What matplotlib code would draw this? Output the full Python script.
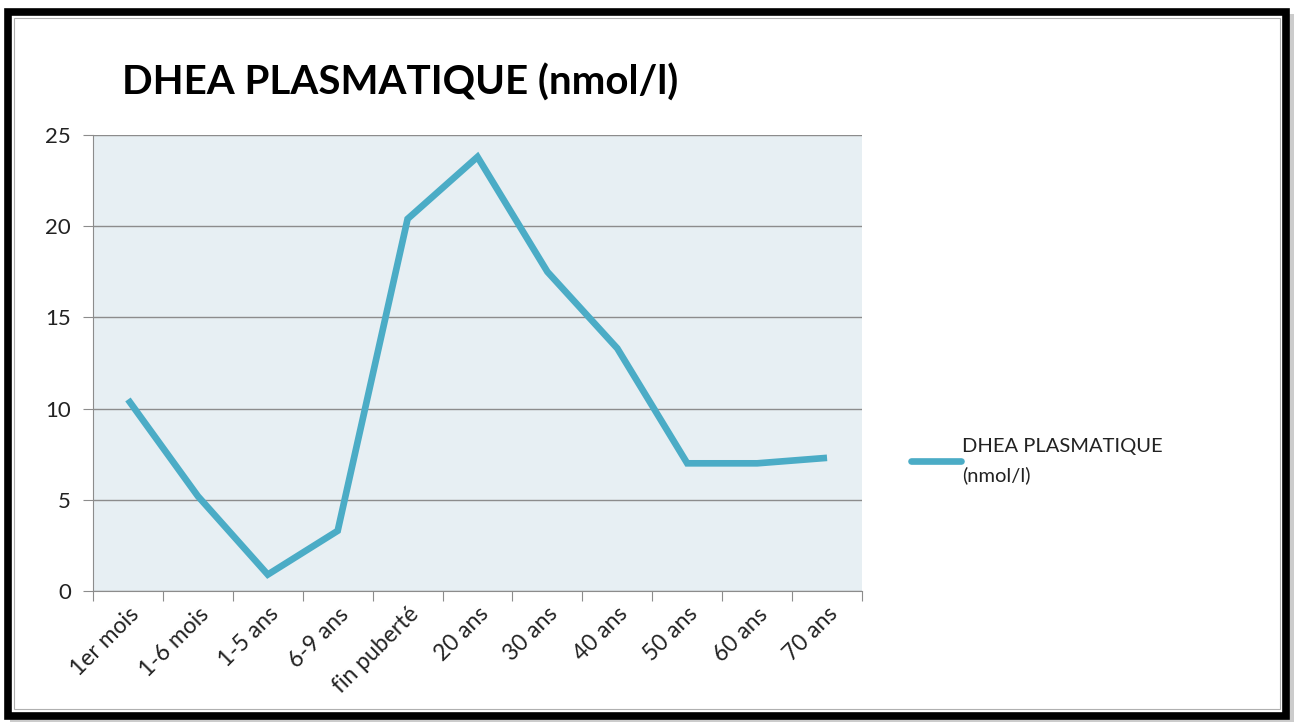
import matplotlib.pyplot as plt
from matplotlib.patches import Rectangle
from matplotlib.lines import Line2D

plt.rcParams['font.family'] = ['Lato', 'DejaVu Sans']

# Données
categories = ['1er mois', '1-6 mois', '1-5 ans', '6-9 ans', 'fin puberté',
              '20 ans', '30 ans', '40 ans', '50 ans', '60 ans', '70 ans']
dhea = [10.5, 5.2, 0.9, 3.3, 20.4, 23.8, 17.5, 13.3, 7.0, 7.0, 7.3]
serie = 'DHEA PLASMATIQUE (nmol/l)'

W, H = 1296, 722
fig = plt.figure(figsize=(W / 100, H / 100), dpi=100)

# cadre noir avec ombre
fig.patches.append(Rectangle((10 / W, 1 - 724 / H), 1284 / W, 710 / H,
                             transform=fig.transFigure, facecolor='#9a9a9a',
                             edgecolor='none', alpha=0.5, zorder=-3))
fig.patches.append(Rectangle((8 / W, 1 - 716 / H), 1278 / W, 704 / H,
                             transform=fig.transFigure, facecolor='white',
                             edgecolor='black', linewidth=5.5, zorder=-2))
fig.patches.append(Rectangle((14 / W, 1 - 709 / H), 1266 / W, 691 / H,
                             transform=fig.transFigure, facecolor='none',
                             edgecolor='#b0b0b0', linewidth=0.8, zorder=-1))

ax = fig.add_axes([93 / W, 1 - 591 / H, (862 - 93) / W, (591 - 135) / H])
ax.set_zorder(2)
ax.set_facecolor('#e7eff3')

x = range(len(categories))
ax.plot(x, dhea, color='#4bacc6', linewidth=4.8, solid_joinstyle='miter',
        solid_capstyle='butt', zorder=3)

ax.set_xlim(-0.5, len(categories) - 0.5)
ax.set_ylim(0, 25)
ax.set_yticks(range(0, 26, 5))
ax.yaxis.grid(True, color='#8c8c8c', linewidth=1)
ax.set_axisbelow(True)

# graduations entre les catégories, étiquettes au centre
ax.set_xticks([i - 0.5 for i in range(len(categories) + 1)])
ax.set_xticklabels([])
ax.set_xticks(list(x), minor=True)
ax.set_xticklabels(categories, minor=True, rotation=45, ha='right',
                   rotation_mode='anchor', fontsize=16.5, color='#222222')
ax.tick_params(axis='x', which='minor', length=0, pad=9)
ax.tick_params(axis='x', which='major', length=7, color='#8c8c8c', direction='out')
ax.tick_params(axis='y', length=7, color='#8c8c8c', labelsize=16,
               labelcolor='#222222', pad=9)

for s in ['top', 'right']:
    ax.spines[s].set_visible(False)
ax.spines['left'].set_color('#8c8c8c')
ax.spines['bottom'].set_color('#8c8c8c')

fig.text(122 / W, 1 - 83 / H, serie, fontsize=29, fontweight='bold',
         va='center', ha='left', color='black')

handle = Line2D([], [], color='#4bacc6', linewidth=4.8, solid_capstyle='round')
leg = fig.legend([handle], ['DHEA PLASMATIQUE\n(nmol/l)'], loc='center left',
                 bbox_to_anchor=(893 / W, 1 - 461 / H), frameon=False, fontsize=14.5,
                 handlelength=2.5, handletextpad=0.05, labelcolor='#222222')
for t in leg.get_texts():
    t.set_linespacing(1.75)

fig.savefig('out.png', dpi=100)
